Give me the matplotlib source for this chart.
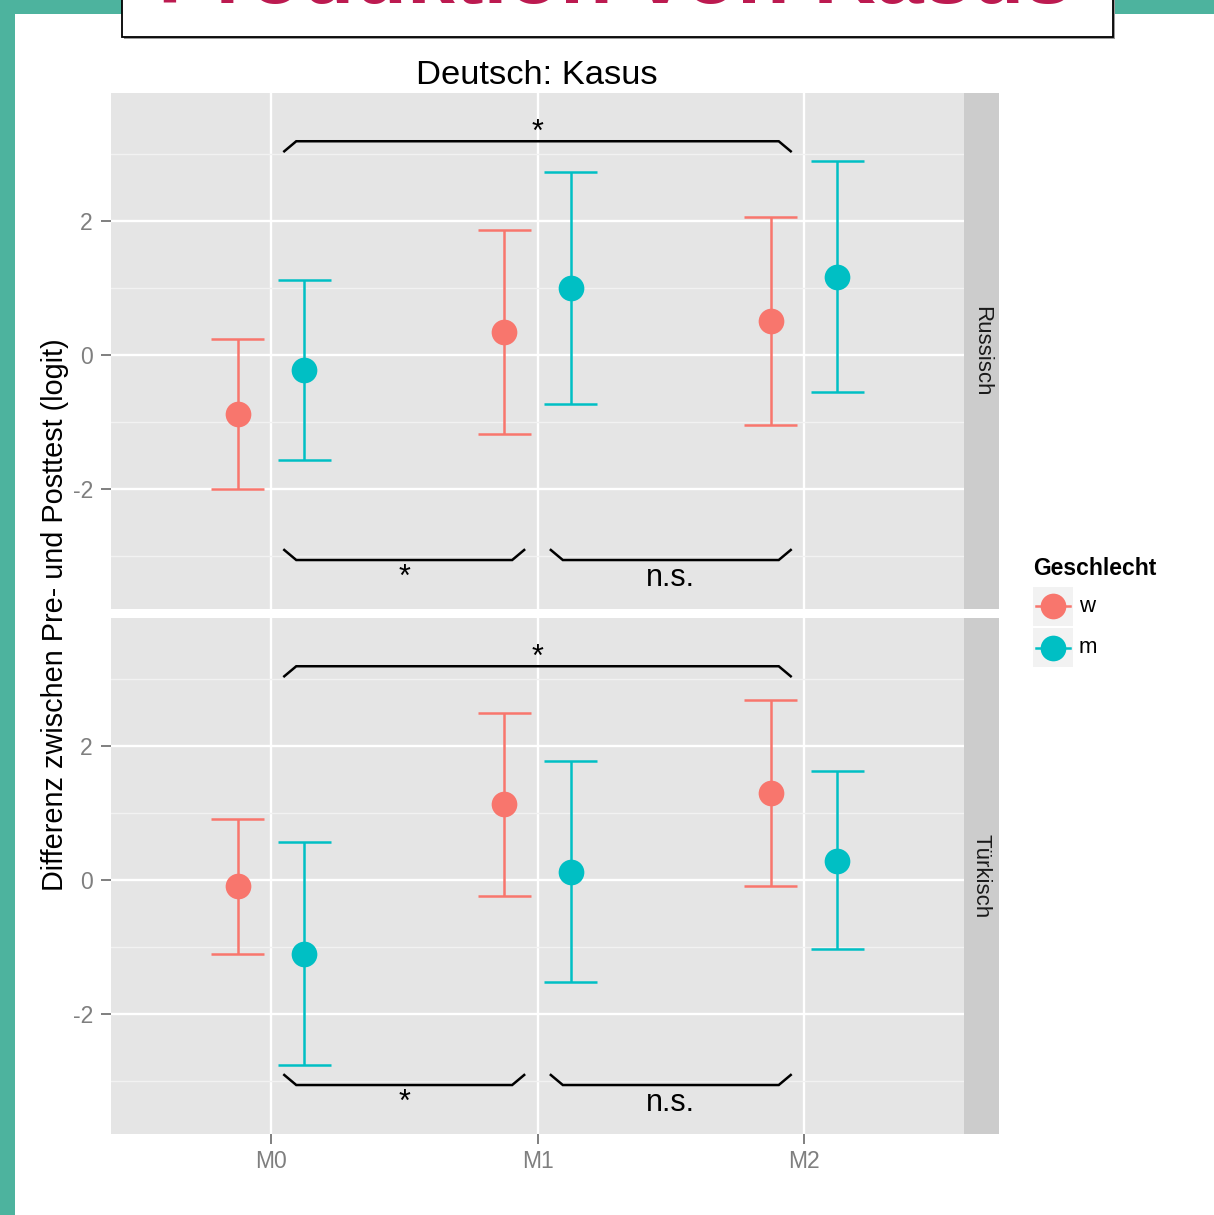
import matplotlib
matplotlib.use('Agg')
import matplotlib.pyplot as plt
from matplotlib.lines import Line2D
from matplotlib.patches import Rectangle
import numpy as np

plt.rcParams['font.family'] = ['Liberation Sans', 'DejaVu Sans']
plt.rcParams['axes.unicode_minus'] = False

# ---------------- data ----------------
zeitpunkte = ['M0', 'M1', 'M2']
sprachen = ['Russisch', 'Türkisch']
geschlecht = ['w', 'm']
farben = {'w': '#F8766D', 'm': '#00BFC4'}

# Russisch
rus_w_mean = [-0.88, 0.34, 0.51]
rus_w_lo = [-2.00, -1.18, -1.04]
rus_w_hi = [0.24, 1.87, 2.06]
rus_m_mean = [-0.22, 1.00, 1.16]
rus_m_lo = [-1.57, -0.73, -0.55]
rus_m_hi = [1.12, 2.73, 2.90]
# Türkisch
tur_w_mean = [-0.09, 1.13, 1.30]
tur_w_lo = [-1.10, -0.24, -0.09]
tur_w_hi = [0.91, 2.49, 2.69]
tur_m_mean = [-1.10, 0.12, 0.28]
tur_m_lo = [-2.76, -1.52, -1.03]
tur_m_hi = [0.57, 1.78, 1.63]

# significance brackets
klammer_von = [0.05, 0.05, 1.05]
klammer_bis = [1.95, 0.95, 1.95]
klammer_label = ['*', '*', 'n.s.']
klammer_seite = ['oben', 'unten', 'unten']

y_ticks = [-2, 0, 2]
y_ticklabels = ['-2', '0', '2']

daten = {
    'Russisch': {'w': (rus_w_mean, rus_w_lo, rus_w_hi), 'm': (rus_m_mean, rus_m_lo, rus_m_hi)},
    'Türkisch': {'w': (tur_w_mean, tur_w_lo, tur_w_hi), 'm': (tur_m_mean, tur_m_lo, tur_m_hi)},
}

# ---------------- figure ----------------
W, H = 1214, 1215
fig = plt.figure(figsize=(W / 100, H / 100), dpi=100)
fig.patch.set_facecolor('white')


def fx(px):
    return px / W


def fy(py):
    return 1 - py / H


teal = '#4DB39E'
fig.add_artist(Rectangle((0, 0), fx(15), 1, transform=fig.transFigure, fc=teal, ec='none', zorder=0))
fig.add_artist(Rectangle((0, fy(14)), 1, 14 / H, transform=fig.transFigure, fc=teal, ec='none', zorder=0))
# title box with shadow
fig.add_artist(Rectangle((fx(124), fy(39)), (1113 - 122) / W, 60 / H, transform=fig.transFigure,
                         fc='#9A9A9A', ec='none', zorder=1))
fig.add_artist(Rectangle((fx(122), fy(37)), (1113 - 122) / W, 60 / H, transform=fig.transFigure,
                         fc='white', ec='black', lw=1.3, zorder=2))
fig.text(fx(615), fy(3), 'Produktion von Kasus', fontsize=62, fontweight='bold', color='#BC1A50',
         ha='center', va='baseline', zorder=3)

fig.text(fx(537), fy(84), 'Deutsch: Kasus', fontsize=24.8, ha='center', va='baseline', color='black')
fig.text(fx(55), fy(615), 'Differenz zwischen Pre- und Posttest (logit)', fontsize=20.8,
         rotation=90, ha='center', va='center', color='black')

x = np.arange(len(zeitpunkte))
offsets = {'w': -0.125, 'm': 0.125}
cap = 0.1
ms = 18.5
lw_err = 1.8

for i, sprache in enumerate(sprachen):
    top = 93 + i * 525
    ax = fig.add_axes([fx(111), fy(top + 516), (964 - 111) / W, 516 / H])
    ax.set_facecolor('#E5E5E5')
    for s in ax.spines.values():
        s.set_visible(False)
    ax.set_xlim(-0.6, 2.6)
    ax.set_ylim(-3.791, 3.910)
    ax.set_yticks(y_ticks)
    ax.set_yticklabels(y_ticklabels)
    ax.set_yticks([-3, -1, 1, 3], minor=True)
    ax.set_xticks(x)
    ax.set_axisbelow(True)
    ax.grid(which='major', color='white', lw=1.7)
    ax.grid(which='minor', axis='y', color='#F2F2F2', lw=1.0)
    ax.tick_params(axis='y', which='major', length=7.5, width=1.4, color='#7F7F7F',
                   labelcolor='#7F7F7F', labelsize=16.5, pad=5.5)
    ax.tick_params(axis='y', which='minor', length=0)
    if i == 0:
        ax.tick_params(axis='x', length=0, labelbottom=False)
    else:
        ax.set_xticklabels(zeitpunkte)
        ax.tick_params(axis='x', length=7.2, width=1.4, color='#7F7F7F',
                       labelcolor='#7F7F7F', labelsize=16.5, pad=4)

    for g in geschlecht:
        mean, lo, hi = daten[sprache][g]
        xs = x + offsets[g]
        c = farben[g]
        ax.vlines(xs, lo, hi, color=c, lw=lw_err, zorder=3)
        ax.hlines(lo, xs - cap, xs + cap, color=c, lw=lw_err, zorder=3)
        ax.hlines(hi, xs - cap, xs + cap, color=c, lw=lw_err, zorder=3)
        ax.plot(xs, mean, 'o', ms=ms, color=c, mec='none', zorder=4)

    k = 0.045
    for von, bis, lab, seite in zip(klammer_von, klammer_bis, klammer_label, klammer_seite):
        if seite == 'oben':
            linie, ende, ylab = 3.19, 3.04, 3.19
        else:
            linie, ende, ylab = -3.06, -2.91, -3.45
        ax.plot([von, von + k, bis - k, bis], [ende, linie, linie, ende], color='black', lw=1.8,
                solid_joinstyle='miter', zorder=5)
        ax.text((von + bis) / 2, ylab, lab, fontsize=22, ha='center', va='baseline', color='black', zorder=5)

    sax = fig.add_axes([fx(964), fy(top + 516), 35 / W, 516 / H])
    sax.set_facecolor('#CCCCCC')
    for s in sax.spines.values():
        s.set_visible(False)
    sax.set_xticks([])
    sax.set_yticks([])
    sax.text(0.5, 0.5, sprache, rotation=-90, ha='center', va='center', fontsize=16,
             color='#1A1A1A', transform=sax.transAxes)

# legend (manual, ggplot style)
fig.text(fx(1033), fy(575), 'Geschlecht', fontsize=16.5, fontweight='bold', ha='left', va='baseline')
for j, g in enumerate(geschlecht):
    ytop = 587 + j * 41
    fig.add_artist(Rectangle((fx(1033), fy(ytop + 39)), 40 / W, 39 / H, transform=fig.transFigure,
                             fc='#F2F2F2', ec='none'))
    yc = fy(ytop + 19.5)
    fig.add_artist(Line2D([fx(1036), fx(1070)], [yc, yc], transform=fig.transFigure,
                          color=farben[g], lw=lw_err))
    fig.add_artist(Line2D([fx(1053)], [yc], transform=fig.transFigure, marker='o', ms=ms,
                          color=farben[g], mec='none'))
    fig.text(fx(1079), yc, g, fontsize=16, ha='left', va='center', color='black')

fig.savefig('out.png', dpi=100)
